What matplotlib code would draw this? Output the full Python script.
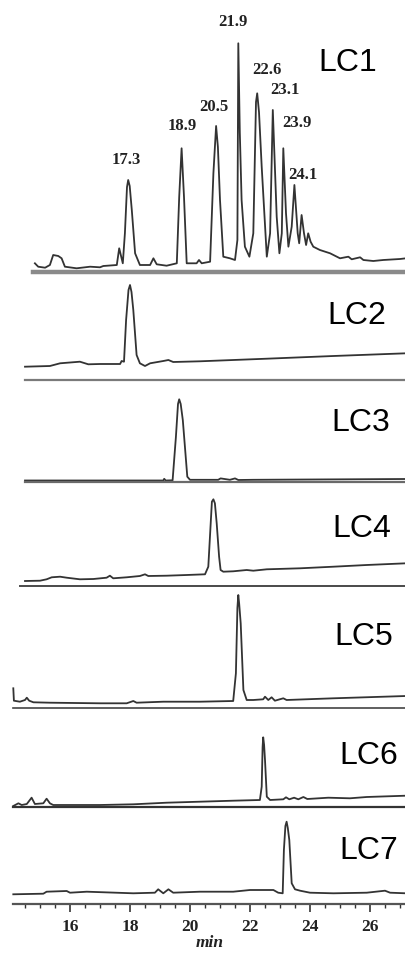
import matplotlib
matplotlib.use("Agg")
import matplotlib.pyplot as plt
from matplotlib.ticker import MultipleLocator

# ---------------- data (retention time in min, detector signal in a.u.) ----------------
lc1_t = [14.83, 14.94, 15.17, 15.33, 15.44, 15.61, 15.72, 15.83, 16.22, 16.67, 17.0, 17.11, 17.56, 17.64,
         17.76, 17.83, 17.90, 17.94, 17.99, 18.06, 18.17, 18.33, 18.67, 18.78, 18.89, 19.22, 19.56, 19.64,
         19.72, 19.80, 19.89, 20.22,
         20.3, 20.39, 20.67, 20.78, 20.87, 20.93, 21.0, 21.11, 21.33, 21.5, 21.58, 21.61, 21.66, 21.72, 21.83, 21.98,
         22.11, 22.20, 22.24, 22.30, 22.39, 22.56, 22.67, 22.76, 22.89, 22.98, 23.06, 23.11, 23.2, 23.28, 23.39, 23.48,
         23.59, 23.64, 23.72, 23.8, 23.87, 23.94, 24.02, 24.11, 24.33, 24.67, 25.0, 25.28, 25.39, 25.67,
         25.78, 26.11, 26.44, 27.0, 27.2]
lc1_s = [8.7, 5.3, 4.3, 7, 17, 16, 13.7, 5.3, 3.7, 5.3, 4.7, 6, 7, 23.7,
         8.7, 38.7, 85, 92, 86, 62, 18.7, 7, 7, 13.7, 7.7, 6.3, 8.7, 75,
         123.7, 75, 8.7, 8.7,
         12, 8.7, 10.3, 98.7, 146, 125, 72, 15.3, 13.7, 12, 32, 228.7, 140, 72, 25.3, 15.3,
         38.7, 170, 178.7, 160, 105.3, 15.3, 38.7, 162, 55.3, 18.7, 38.7, 123.7, 58.7, 25.3, 45.3, 87,
         38.7, 28.7, 57, 38.7, 27, 38.7, 30.3, 25.3, 22, 18.7, 13.7, 15.3, 12.7, 14.7,
         12, 11, 12, 13, 13.7]

lc2_t = [14.5, 15.33, 15.67, 16.33, 16.61, 17.0, 17.67, 17.72, 17.8, 17.87, 17.95, 18.0, 18.05, 18.11, 18.22, 18.33,
         18.5, 18.67, 19.11, 19.28, 19.44, 20.33, 22.56, 24.78, 27.2]
lc2_s = [13.3, 14, 16.7, 18.3, 15.7, 16, 16, 19, 18.3, 60, 90, 95, 88, 70, 25, 16.7,
         14, 16.7, 19, 20, 18, 18.7, 21.3, 24, 26.7]

lc3_t = [14.5, 19.11, 19.14, 19.19, 19.42, 19.53, 19.60, 19.64, 19.69, 19.76, 19.91, 20.0, 20.94, 21.02, 21.33, 21.5,
         21.61, 22.11, 27.2]
lc3_s = [1.5, 1.5, 3.2, 1.5, 1.7, 45, 78, 82.7, 78, 62, 5.3, 2.2, 2.2, 3.6, 2.2, 3.6,
         2, 2.2, 3]

lc4_t = [14.5, 15.0, 15.22, 15.39, 15.67, 15.89, 16.33, 16.78, 17.22, 17.33, 17.44, 17.89, 18.33, 18.5,
         18.61, 19.22, 19.89, 20.5, 20.61, 20.69, 20.73, 20.78, 20.83, 20.89, 20.97, 21.02, 21.11, 21.44,
         21.89, 22.11, 22.56, 23.67, 24.78, 25.89, 27.2]
lc4_s = [5, 5.3, 6.7, 8.7, 9.3, 8.3, 6.7, 7, 8.3, 10.3, 7.7, 8.7, 10, 11.7,
         10, 10.3, 11, 11.7, 19.3, 62.7, 84.3, 86.7, 82.7, 62.7, 29.3, 16, 14.3, 14.7,
         16, 15.3, 16.7, 17.7, 19.3, 21, 22.7]

lc5_t = [14.11, 14.13, 14.33, 14.5, 14.56, 14.64, 14.78, 15.33, 17.0, 17.89, 18.11, 18.22, 19.11, 20.33,
         21.44, 21.53, 21.58, 21.61, 21.64, 21.69, 21.78, 21.89, 22.11, 22.44, 22.5, 22.61, 22.72, 22.83, 23.11, 23.22,
         24.78, 27.2]
lc5_s = [19.7, 7.3, 6.3, 8, 10.3, 7.3, 5.7, 5.3, 4.7, 4.7, 7, 5.3, 6.3, 6.3,
         7, 34.7, 100, 113, 104, 84.7, 18, 8, 8, 8.7, 11.3, 8, 10.7, 7.3, 9.7, 8,
         9.7, 12]

lc6_t = [14.11, 14.28, 14.39, 14.56, 14.72, 14.83, 15.11, 15.22, 15.33, 15.44, 17.0, 18.11, 19.22, 20.33,
         21.44, 22.33, 22.39, 22.42, 22.44, 22.47, 22.5, 22.56, 22.67, 23.11, 23.2, 23.31, 23.47, 23.61, 23.78, 23.91,
         24.61, 25.33, 25.89, 27.2]
lc6_s = [1, 3.7, 2, 3, 9.3, 3, 3.7, 8.3, 3.7, 2, 2, 2.7, 4.3, 5.3,
         6.3, 7, 20.3, 60, 69.7, 62, 47, 10.3, 7, 7.7, 9.7, 7.7, 9.3, 7.7, 10, 8,
         9.3, 8.7, 10, 11.3]

lc7_t = [14.11, 15.11, 15.22, 15.89, 16.0, 16.56, 18.11, 18.83, 18.94, 19.11, 19.28, 19.44, 20.33, 21.44,
         22.0, 22.78, 22.94, 23.09, 23.13, 23.18, 23.22, 23.26, 23.31, 23.39, 23.5, 23.67, 24.0, 24.78, 25.89, 26.5,
         26.67, 27.2]
lc7_s = [9.7, 10.3, 12.3, 13, 11.3, 12.3, 10.7, 11.3, 14.7, 10.7, 14.7, 11.3, 12.3, 12.3,
         14, 14, 11.3, 10.7, 54, 78, 82.3, 76, 64, 20.7, 14.7, 13.3, 11.3, 10.7, 11.3, 13.3,
         11.3, 10.7]

sample_names = ["LC1", "LC2", "LC3", "LC4", "LC5", "LC6", "LC7"]
traces_t = [lc1_t, lc2_t, lc3_t, lc4_t, lc5_t, lc6_t, lc7_t]
traces_s = [lc1_s, lc2_s, lc3_s, lc4_s, lc5_s, lc6_s, lc7_s]

peak_labels = ["17.3", "18.9", "20.5", "21.9", "22.6", "23.1", "23.9", "24.1"]

x_ticks = [16, 18, 20, 22, 24, 26]
x_label = "min"

# ---------------- layout (pixels of a 406 x 955 canvas) ----------------
W, H = 406, 955
panel_bottom_px = [272, 380, 482, 586, 708, 807, 904]
panel_top_px = [0, 272, 380, 482, 586, 708, 807]
ax_left_px = 13
xlim = (14.1, 27.2)

line_start_frac = [0.051, 0.031, 0.031, 0.018, 0.0, 0.0, 0.0]
sep_lw = [3.2, 1.6, 1.6, 1.4, 1.2, 1.6, 1.6]
sep_col = ["#8a8a8a", "#7a7a7a", "#6a6a6a", "#4a4a4a", "#444444", "#333333", "#555555"]

name_pos = [(25.27, 209), (25.57, 64), (25.70, 59), (25.73, 57), (25.80, 71), (25.97, 51), (25.97, 53)]
peak_label_pos = [(17.87, 112), (19.73, 146), (20.80, 165), (21.43, 250), (22.57, 202),
                  (23.17, 182), (23.57, 149), (23.77, 97)]

fig = plt.figure(figsize=(W / 100, H / 100), dpi=100)
fig.patch.set_facecolor("white")

axes = []
for i in range(7):
    b, t = panel_bottom_px[i], panel_top_px[i]
    ax = fig.add_axes([ax_left_px / W, 1 - b / H, (W - ax_left_px) / W, (b - t) / H])
    ax.set_xlim(*xlim)
    ax.set_ylim(0, b - t)
    ax.patch.set_alpha(0)
    for s in ax.spines.values():
        s.set_visible(False)
    ax.set_yticks([])
    ax.plot(traces_t[i], traces_s[i], color="#333333", lw=1.3, clip_on=False,
            solid_joinstyle="round")
    if i < 6:
        ax.set_xticks([])
        ax.axhline(0, xmin=line_start_frac[i], xmax=1, color=sep_col[i], lw=sep_lw[i],
                   clip_on=False)
    ax.text(name_pos[i][0], name_pos[i][1], sample_names[i], family="Liberation Sans",
            fontsize=23, ha="center", va="center", color="black")
    axes.append(ax)

# peak annotations on LC1
for lab, (px, py) in zip(peak_labels, peak_label_pos):
    axes[0].text(px, py, lab, family="Liberation Serif", fontweight="bold", fontsize=12,
                 ha="center", va="center", color="#222222")

# bottom axis
axb = axes[6]
axb.spines["bottom"].set_visible(True)
axb.spines["bottom"].set_color(sep_col[6])
axb.spines["bottom"].set_linewidth(sep_lw[6])
axb.set_xticks(x_ticks)
axb.xaxis.set_minor_locator(MultipleLocator(0.5))
axb.tick_params(axis="x", which="major", length=6, width=1.2, color="#333333", pad=5,
                labelsize=12.5)
axb.tick_params(axis="x", which="minor", length=3, width=1.0, color="#333333")
for lbl in axb.get_xticklabels():
    lbl.set_family("Liberation Serif")
    lbl.set_fontweight("bold")
    lbl.set_color("#222222")
axb.set_xlabel(x_label, family="Liberation Serif", fontstyle="italic", fontweight="bold",
               fontsize=12.5, labelpad=0, color="#222222")

fig.savefig("out.png", dpi=100, facecolor="white")
